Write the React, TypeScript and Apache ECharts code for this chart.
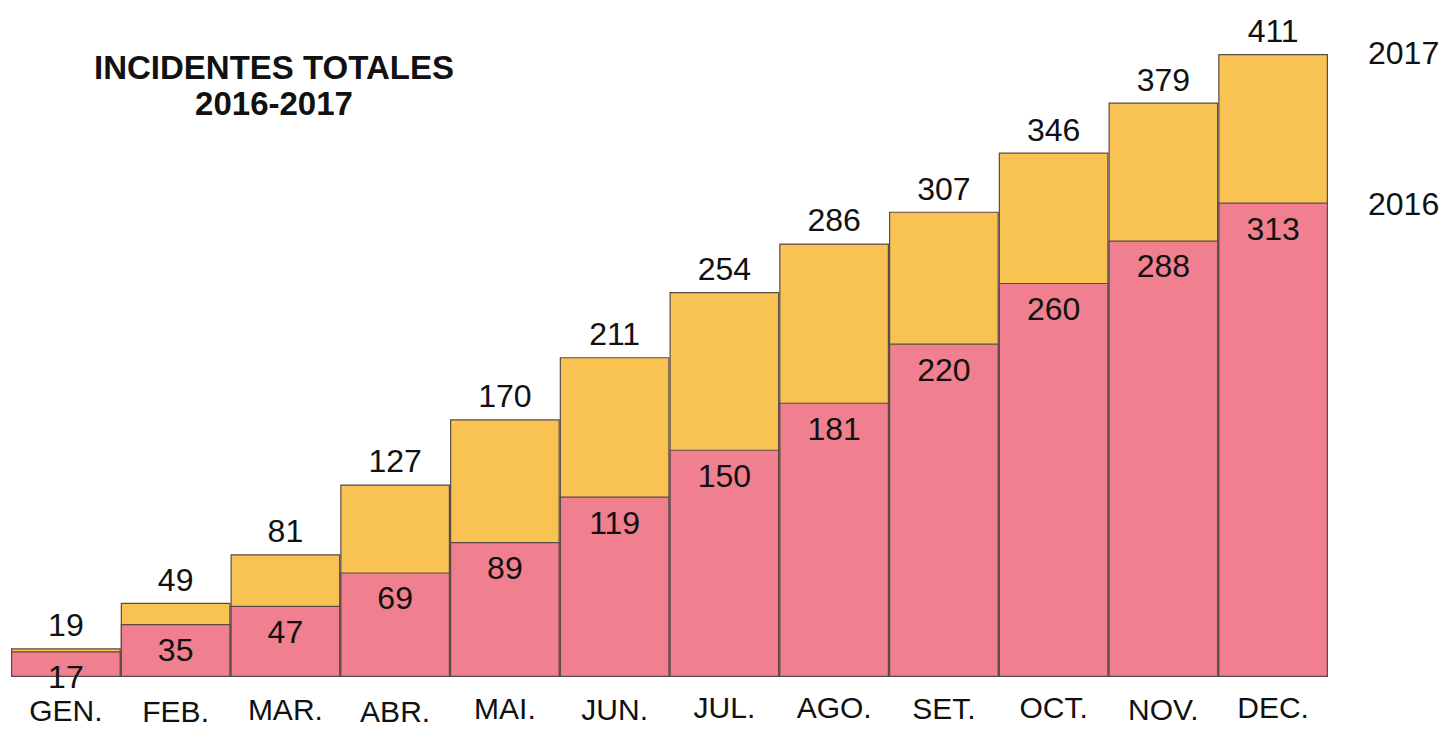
import React, { useEffect, useRef } from "react";
import * as echarts from "echarts";

const months = ["GEN.", "FEB.", "MAR.", "ABR.", "MAI.", "JUN.", "JUL.", "AGO.", "SET.", "OCT.", "NOV.", "DEC."];
const values2017 = [19, 49, 81, 127, 170, 211, 254, 286, 307, 346, 379, 411];
const values2016 = [17, 35, 47, 69, 89, 119, 150, 181, 220, 260, 288, 313];
const labelOffsets = [3, 4, 2, 4, 1, 2, 0, 0, 1, 0, 2, 0];

export default function App() {
  const ref = useRef<HTMLDivElement>(null);
  useEffect(() => {
    const chart = echarts.init(ref.current!, null, { renderer: "svg" });
    const font = "Liberation Sans, Arial, sans-serif";
    chart.setOption({
      animation: false,
      backgroundColor: "#ffffff",
      title: {
        text: "INCIDENTES TOTALES\n2016-2017",
        left: 269,
        top: 44,
        textAlign: "center",
        textStyle: { fontFamily: font, fontWeight: "bold", fontSize: 33, lineHeight: 36, color: "#111" },
      },
      grid: { left: 11, right: 117, top: 54, bottom: 52, outerBoundsMode: "none", containLabel: false },
      xAxis: {
        type: "category",
        data: months.map((m, i) => ({ value: m, textStyle: { padding: [labelOffsets[i], 0, 0, 0] } })),
        axisLine: { show: false },
        axisTick: { show: false },
        axisLabel: { fontFamily: font, fontSize: 30, lineHeight: 30, color: "#111", margin: 15, interval: 0, hideOverlap: false },
      },
      yAxis: { type: "value", min: 0, max: 411, show: false, splitLine: { show: false } },
      series: [
        {
          name: "2017",
          type: "bar",
          data: values2017,
          barCategoryGap: 0,
          barGap: "-100%",
          itemStyle: { color: "#F8C352", borderColor: "#5a4a48", borderWidth: 1.2 },
          label: { show: true, position: "top", distance: 7, fontFamily: font, fontSize: 32, color: "#111" },
        },
        {
          name: "2016",
          type: "bar",
          data: values2016,
          barCategoryGap: 0,
          barGap: "-100%",
          itemStyle: { color: "#F07F8F", borderColor: "#5a4a48", borderWidth: 1.2 },
          label: { show: true, position: "insideTop", distance: 10, fontFamily: font, fontSize: 32, color: "#111" },
        },
      ],
      graphic: [
        { type: "text", left: 1368, top: 37, style: { text: "2017", fontFamily: font, fontSize: 32, fill: "#111" } },
        { type: "text", left: 1368, top: 188, style: { text: "2016", fontFamily: font, fontSize: 32, fill: "#111" } },
      ],
    });
    return () => chart.dispose();
  }, []);
  return <div ref={ref} style={{ position: "absolute", left: 0, top: 0, width: 1445, height: 729 }} />;
}
